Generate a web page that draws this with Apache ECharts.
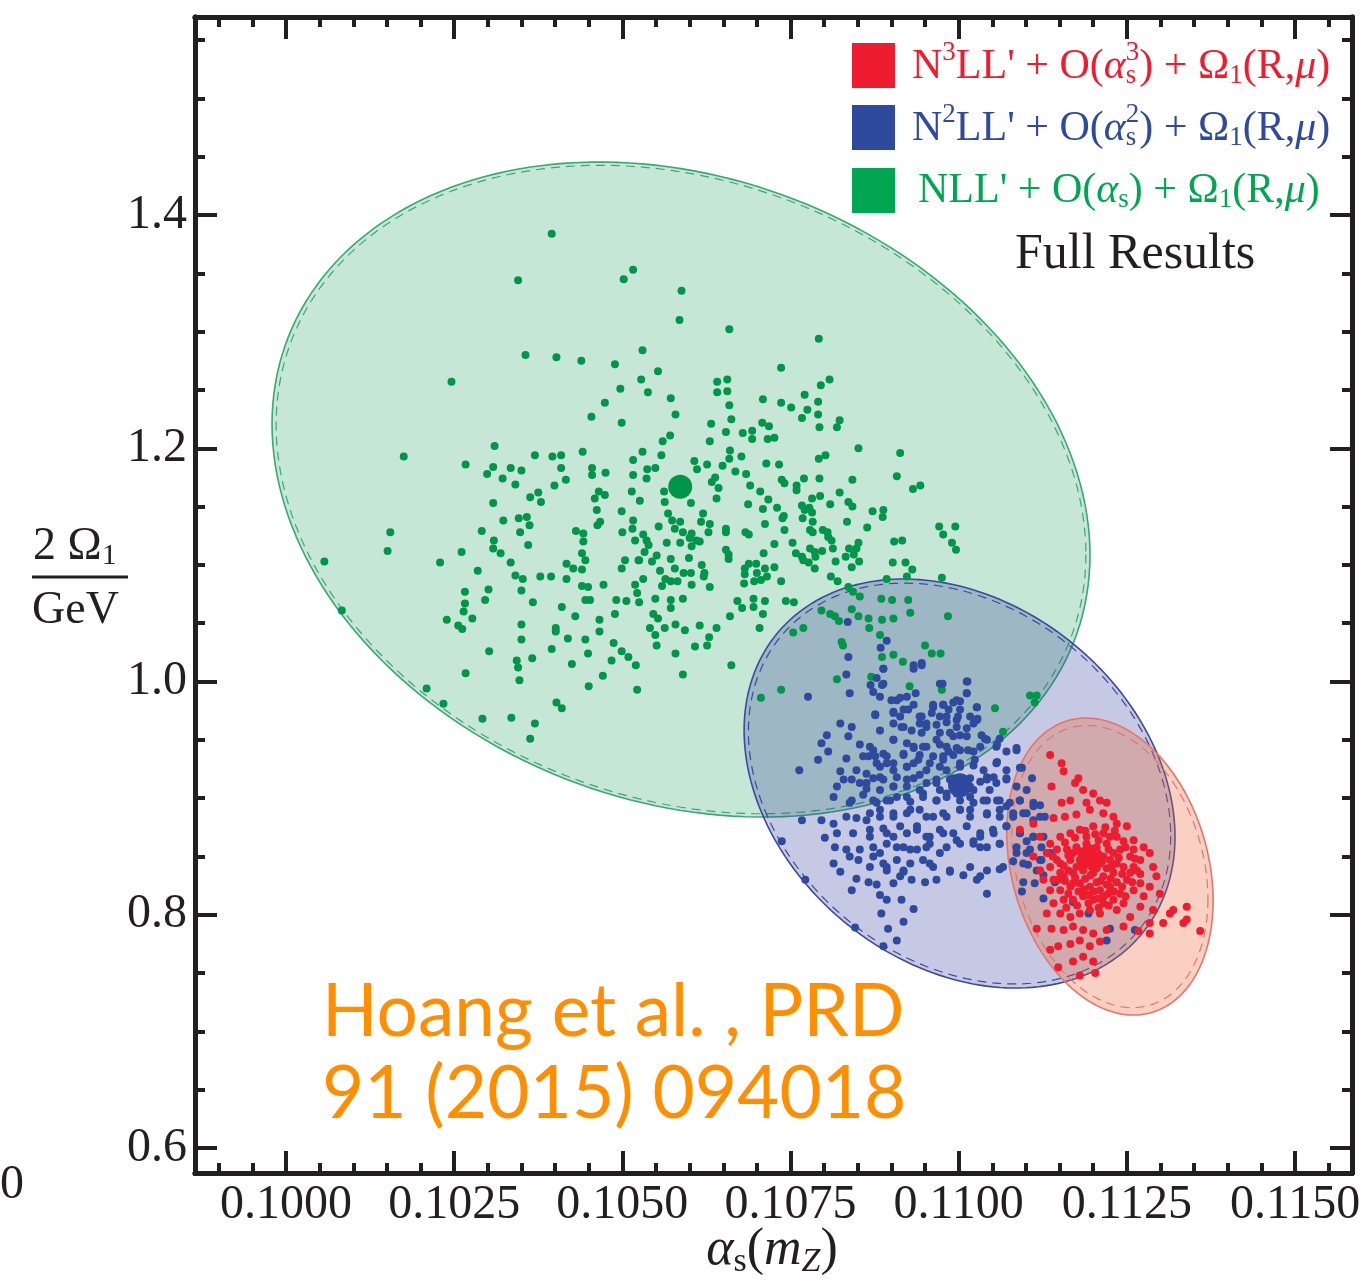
<!DOCTYPE html>
<html>
<head>
<meta charset="utf-8">
<script src="https://cdn.jsdelivr.net/npm/echarts@6.0.0/dist/echarts.min.js"></script>
<style>
html, body { margin: 0; padding: 0; background: #fff; }
#chart { width: 1367px; height: 1284px; }
</style>
</head>
<body>
<div id="chart"></div>
<script>
var myChart = echarts.init(document.getElementById('chart'));

// axis window and ticks
const X_MIN = 0.098647, X_MAX = 0.115847;
const Y_MIN = 0.5786, Y_MAX = 1.5698;
const xMajor = [0.1000, 0.1025, 0.1050, 0.1075, 0.1100, 0.1125, 0.1150];
const yMajor = [0.6, 0.8, 1.0, 1.2, 1.4];

// fit ellipses: [alpha_s centre, 2 Omega_1 centre, half width, half height, correlation, dashed scale]
const greenEllipse = [0.105872, 1.16463, 0.006080, 0.28082, -0.20, 0.99];
const blueEllipse  = [0.110013, 0.91254, 0.003203, 0.17535, -0.26, 0.98];
const redEllipse   = [0.112248, 0.84137, 0.001534, 0.12733, -0.23, 0.95];

// best fit points
const greenCenter = [0.10586, 1.167];
const blueCenter  = [0.11002, 0.911];
const redCenter   = [0.11195, 0.850];

// NLL' scan
const greenPoints = [
[0.10395,1.384],[0.10345,1.344],[0.10516,1.353],[0.10502,1.345],[0.10356,1.280],[0.10402,1.278],[0.10439,1.275],[0.10489,1.272],[0.10246,1.257],[0.10497,1.251],
[0.10474,1.239],[0.10454,1.227],[0.10499,1.222],[0.10310,1.202],[0.10175,1.193],[0.10370,1.194],[0.10396,1.193],[0.10409,1.194],[0.10441,1.197],[0.10267,1.186],
[0.10308,1.184],[0.10299,1.178],[0.10334,1.183],[0.10350,1.181],[0.10322,1.174],[0.10341,1.169],[0.10409,1.183],[0.10416,1.173],[0.10399,1.168],[0.10455,1.183],
[0.10455,1.177],[0.10475,1.179],[0.10516,1.190],[0.10516,1.177],[0.10363,1.158],[0.10375,1.162],[0.10379,1.154],[0.10308,1.153],[0.10459,1.157],[0.10465,1.163],
[0.10474,1.160],[0.10514,1.163],[0.10462,1.147],[0.10499,1.146],[0.10323,1.138],[0.10346,1.140],[0.10358,1.141],[0.10362,1.134],[0.10467,1.137],[0.10463,1.134],
[0.10516,1.138],[0.10291,1.129],[0.10348,1.128],[0.10431,1.129],[0.10442,1.127],[0.10500,1.128],[0.10515,1.131],[0.10155,1.128],[0.10309,1.121],[0.10308,1.114],
[0.10360,1.117],[0.10442,1.120],[0.10519,1.121],[0.10151,1.112],[0.10261,1.111],[0.10319,1.110],[0.10440,1.110],[0.10057,1.103],[0.10229,1.102],[0.10334,1.102],
[0.10417,1.101],[0.10445,1.104],[0.10504,1.104],[0.10499,1.097],[0.10524,1.104],[0.10285,1.095],[0.10427,1.097],[0.10440,1.096],[0.10341,1.091],[0.10352,1.088],
[0.10378,1.090],[0.10394,1.090],[0.10417,1.088],[0.10440,1.082],[0.10449,1.081],[0.10472,1.083],[0.10519,1.083],[0.10522,1.076],[0.10266,1.077],[0.10301,1.079],
[0.10350,1.078],[0.10296,1.070],[0.10266,1.067],[0.10367,1.068],[0.10445,1.070],[0.10452,1.070],[0.10491,1.070],[0.10506,1.069],[0.10410,1.064],[0.10264,1.060],
[0.10277,1.054],[0.10239,1.053],[0.10256,1.048],[0.10262,1.045],[0.10430,1.056],[0.10489,1.058],[0.10466,1.053],[0.10350,1.049],[0.10401,1.046],[0.10401,1.043],
[0.10466,1.043],[0.10083,1.061],[0.10419,1.037],[0.10445,1.036],[0.10350,1.036],[0.10487,1.033],[0.10395,1.028],[0.10302,1.026],[0.10449,1.024],[0.10499,1.026],
[0.10509,1.021],[0.10366,1.020],[0.10343,1.018],[0.10345,1.012],[0.10425,1.015],[0.10484,1.018],[0.10520,1.014],[0.10267,1.007],[0.10347,1.001],[0.10471,1.005],
[0.10450,0.996],[0.10522,0.993],[0.10209,0.994],[0.10234,0.981],[0.10402,0.982],[0.10410,0.977],[0.10292,0.968],[0.10335,0.969],[0.10370,0.964],[0.10363,0.951],
[0.10588,1.335],[0.10585,1.310],[0.10659,1.302],[0.10792,1.294],[0.10530,1.284],[0.10553,1.266],[0.10736,1.269],[0.10808,1.259],[0.10795,1.254],[0.10528,1.259],
[0.10538,1.248],[0.10641,1.257],[0.10656,1.259],[0.10641,1.248],[0.10656,1.249],[0.10572,1.243],[0.10709,1.242],[0.10771,1.246],[0.10791,1.240],[0.10659,1.237],
[0.10736,1.239],[0.10751,1.235],[0.10775,1.233],[0.10579,1.229],[0.10767,1.226],[0.10791,1.229],[0.10793,1.218],[0.10662,1.225],[0.10632,1.221],[0.10708,1.222],
[0.10718,1.219],[0.10823,1.224],[0.10819,1.218],[0.10654,1.214],[0.10679,1.213],[0.10693,1.215],[0.10693,1.208],[0.10716,1.208],[0.10726,1.209],[0.10571,1.211],
[0.10560,1.206],[0.10630,1.206],[0.10851,1.200],[0.10913,1.196],[0.10530,1.197],[0.10558,1.194],[0.10660,1.198],[0.10677,1.193],[0.10659,1.191],[0.10802,1.194],
[0.10792,1.191],[0.10607,1.189],[0.10626,1.186],[0.10649,1.185],[0.10714,1.187],[0.10733,1.186],[0.10537,1.182],[0.10549,1.183],[0.10611,1.182],[0.10668,1.180],
[0.10684,1.178],[0.10536,1.174],[0.10638,1.175],[0.10737,1.173],[0.10770,1.174],[0.10793,1.174],[0.10842,1.173],[0.10908,1.176],[0.10633,1.171],[0.10690,1.168],
[0.10741,1.170],[0.10759,1.168],[0.10643,1.166],[0.10759,1.164],[0.10943,1.168],[0.10932,1.165],[0.10562,1.163],[0.10705,1.163],[0.10823,1.162],[0.10640,1.157],
[0.10782,1.157],[0.10794,1.159],[0.10563,1.154],[0.10526,1.155],[0.10602,1.153],[0.10717,1.156],[0.10687,1.152],[0.10767,1.151],[0.10809,1.152],[0.10836,1.154],
[0.10842,1.150],[0.10730,1.149],[0.10778,1.149],[0.10709,1.148],[0.10771,1.147],[0.10782,1.145],[0.10872,1.146],[0.10888,1.147],[0.10887,1.141],[0.10568,1.144],
[0.10620,1.144],[0.10740,1.142],[0.10768,1.140],[0.10738,1.140],[0.10574,1.138],[0.10586,1.137],[0.10617,1.137],[0.10630,1.135],[0.10712,1.135],[0.10783,1.137],
[0.10834,1.137],[0.10971,1.133],[0.10995,1.133],[0.10554,1.133],[0.10578,1.131],[0.10654,1.131],[0.10779,1.130],[0.10798,1.130],[0.10864,1.132],[0.10590,1.128],
[0.10603,1.127],[0.10628,1.128],[0.10654,1.128],[0.10683,1.128],[0.10741,1.130],[0.10783,1.128],[0.10805,1.128],[0.10531,1.126],[0.10688,1.126],[0.10977,1.126],
[0.10536,1.121],[0.10600,1.123],[0.10610,1.121],[0.10806,1.124],[0.10811,1.121],[0.10566,1.119],[0.10586,1.119],[0.10615,1.120],[0.10753,1.119],[0.10904,1.120],
[0.10916,1.121],[0.10990,1.119],[0.10539,1.117],[0.10726,1.118],[0.10851,1.119],[0.10603,1.116],[0.10779,1.114],[0.10797,1.112],[0.10813,1.114],[0.10837,1.114],
[0.10848,1.114],[0.10996,1.113],[0.10533,1.111],[0.10654,1.113],[0.10786,1.111],[0.10551,1.108],[0.10658,1.109],[0.10710,1.110],[0.10758,1.110],[0.10767,1.107],
[0.10787,1.107],[0.10832,1.107],[0.10844,1.109],[0.10572,1.105],[0.10599,1.106],[0.10658,1.105],[0.10525,1.104],[0.10544,1.103],[0.10769,1.104],[0.10777,1.102],
[0.10817,1.103],[0.10852,1.103],[0.10902,1.102],[0.10921,1.102],[0.10688,1.101],[0.10699,1.101],[0.10618,1.100],[0.10726,1.098],[0.10682,1.097],[0.10712,1.097],
[0.10786,1.097],[0.10841,1.098],[0.10931,1.096],[0.10556,1.095],[0.10578,1.097],[0.10591,1.093],[0.10602,1.093],[0.10622,1.093],[0.10700,1.093],[0.10682,1.092],
[0.10715,1.090],[0.10810,1.090],[0.10621,1.090],[0.10564,1.088],[0.10531,1.088],[0.10893,1.088],[0.10923,1.090],[0.10975,1.089],[0.10572,1.086],[0.10582,1.086],
[0.10696,1.086],[0.10706,1.087],[0.10736,1.086],[0.10820,1.086],[0.10559,1.082],[0.10603,1.083],[0.10681,1.084],[0.10836,1.081],[0.10630,1.081],[0.10843,1.077],
[0.10853,1.073],[0.10549,1.071],[0.10572,1.070],[0.10590,1.071],[0.10671,1.069],[0.10695,1.071],[0.10712,1.069],[0.10743,1.069],[0.10755,1.068],[0.10885,1.071],
[0.10901,1.070],[0.10925,1.070],[0.10525,1.068],[0.10572,1.063],[0.10678,1.063],[0.10695,1.064],[0.10796,1.061],[0.10841,1.062],[0.10928,1.059],[0.10546,1.058],
[0.10553,1.054],[0.10709,1.058],[0.10660,1.056],[0.10809,1.058],[0.10816,1.056],[0.10851,1.056],[0.10866,1.054],[0.10886,1.053],[0.10903,1.054],[0.10984,1.056],
[0.10822,1.052],[0.10541,1.046],[0.10563,1.046],[0.10579,1.049],[0.10593,1.044],[0.10615,1.048],[0.10640,1.046],[0.10704,1.046],[0.10769,1.046],[0.10867,1.046],
[0.10754,1.042],[0.10549,1.040],[0.10629,1.038],[0.10883,1.040],[0.10551,1.031],[0.10608,1.030],[0.10626,1.031],[0.10826,1.034],[0.10828,1.031],[0.10950,1.031],
[0.10579,1.024],[0.10886,1.021],[0.10903,1.023],[0.10960,1.024],[0.10973,1.024],[0.10917,1.017],[0.10662,1.014],[0.10870,1.004],[0.10590,1.006],[0.10819,1.002],
[0.10927,0.996],[0.10975,0.993],[0.10736,0.993],[0.10706,0.986],
[0.11106,0.988],[0.11116,0.988],[0.11113,0.982],[0.11054,0.977],[0.11066,0.957]
];

// N2LL' scan
const bluePoints = [
[0.10835,1.051],[0.10893,1.035],[0.10884,1.029],[0.10836,1.021],[0.10888,1.011],[0.10933,1.011],[0.10945,1.016],[0.10833,1.006],[0.10878,1.003],[0.10869,0.997],
[0.10976,0.998],[0.11013,1.000],[0.10888,0.998],[0.10838,0.990],[0.10883,0.987],[0.10900,0.984],[0.10913,0.986],[0.10923,0.987],[0.10936,0.990],[0.11012,0.990],
[0.10776,0.987],[0.10962,0.980],[0.10977,0.980],[0.10992,0.982],[0.11002,0.983],[0.11027,0.978],[0.10876,0.972],[0.10903,0.974],[0.10918,0.976],[0.10933,0.980],
[0.10945,0.970],[0.10960,0.973],[0.10972,0.970],[0.10985,0.976],[0.10999,0.970],[0.11017,0.970],[0.11028,0.968],[0.10913,0.970],
[0.10824,0.964],[0.10841,0.961],[0.10903,0.964],[0.10918,0.961],[0.10942,0.964],[0.10952,0.961],[0.10967,0.963],[0.10982,0.965],[0.10997,0.961],[0.11012,0.960],
[0.11022,0.964],[0.10945,0.956],[0.10972,0.956],[0.10992,0.953],[0.11012,0.953],[0.11034,0.954],[0.11042,0.950],[0.10804,0.954],[0.10836,0.953],[0.10903,0.950],
[0.10796,0.947],[0.10806,0.940],[0.10853,0.946],[0.10873,0.941],[0.10923,0.947],[0.10933,0.943],[0.10952,0.944],[0.10972,0.946],[0.10985,0.940],[0.11002,0.941],
[0.11022,0.940],[0.11056,0.944],[0.11071,0.940],[0.11086,0.941],[0.10888,0.938],[0.10918,0.937],[0.10942,0.937],[0.10962,0.936],[0.10977,0.936],[0.10992,0.937],
[0.10791,0.933],[0.10833,0.934],[0.10866,0.936],[0.10878,0.930],[0.10893,0.930],[0.10923,0.927],[0.10933,0.930],[0.10952,0.924],[0.10972,0.927],[0.10982,0.924],
[0.11002,0.927],[0.11022,0.928],[0.11037,0.924],[0.11056,0.930],[0.11071,0.924],[0.11091,0.926],[0.10763,0.924],[0.10824,0.923],[0.10848,0.924],[0.10863,0.921],[0.10903,0.924],
[0.10829,0.916],[0.10841,0.916],[0.10853,0.913],[0.10873,0.917],[0.10888,0.916],[0.10908,0.918],[0.10933,0.917],[0.10952,0.913],[0.10967,0.913],[0.10992,0.917],
[0.11017,0.917],[0.11032,0.914],[0.11042,0.918],[0.11056,0.913],[0.11071,0.916],[0.11086,0.910],[0.11101,0.907],[0.10819,0.910],[0.10863,0.908],[0.10883,0.907],
[0.10903,0.910],[0.10923,0.910],[0.10942,0.907],[0.10972,0.907],[0.11022,0.907],[0.11046,0.907],
[0.10814,0.901],[0.10841,0.898],[0.10858,0.903],[0.10873,0.898],[0.10893,0.898],[0.10908,0.901],[0.10928,0.897],[0.10947,0.901],[0.10967,0.898],[0.10982,0.901],
[0.11002,0.898],[0.11022,0.896],[0.11042,0.898],[0.11061,0.898],[0.11076,0.896],[0.11091,0.898],[0.11111,0.896],[0.11121,0.894],[0.10838,0.896],
[0.10767,0.881],[0.10796,0.881],[0.10814,0.878],[0.10833,0.884],[0.10848,0.883],[0.10868,0.887],[0.10883,0.890],[0.10903,0.884],[0.10923,0.887],[0.10942,0.890],
[0.10962,0.884],[0.10982,0.884],[0.11002,0.890],[0.11017,0.884],[0.11042,0.886],[0.11061,0.890],[0.11081,0.884],[0.11096,0.887],[0.11111,0.881],[0.11128,0.884],
[0.10737,0.863],[0.10801,0.866],[0.10819,0.870],[0.10843,0.870],[0.10868,0.873],[0.10888,0.874],[0.10903,0.867],[0.10923,0.870],[0.10938,0.876],[0.10952,0.867],
[0.10972,0.873],[0.10992,0.870],[0.11012,0.876],[0.11032,0.867],[0.11051,0.873],[0.11071,0.876],[0.11091,0.870],[0.11111,0.867],[0.11101,0.863],[0.11126,0.867],
[0.10816,0.858],[0.10833,0.856],[0.10853,0.856],[0.10873,0.858],[0.10893,0.861],[0.10918,0.858],[0.10938,0.856],[0.10957,0.861],[0.10982,0.858],[0.11002,0.861],
[0.11022,0.863],[0.11032,0.858],[0.11061,0.861],[0.11086,0.853],[0.11106,0.856],[0.11123,0.858],[0.11136,0.853],
[0.10814,0.844],[0.10838,0.850],[0.10851,0.847],[0.10873,0.850],[0.10888,0.844],[0.10908,0.847],[0.10928,0.844],[0.10947,0.847],[0.10962,0.841],[0.10987,0.837],
[0.11007,0.834],[0.11027,0.830],[0.11061,0.839],[0.11081,0.846],[0.11103,0.843],[0.11123,0.847],[0.11116,0.838],[0.10824,0.837],[0.10893,0.838],[0.10918,0.837],
[0.10772,0.830],[0.10848,0.831],[0.10866,0.828],[0.10878,0.826],[0.10903,0.827],[0.10930,0.830],[0.10950,0.828],[0.10967,0.830],[0.11096,0.828],[0.11113,0.827],[0.11126,0.834],[0.11143,0.828],
[0.10841,0.821],[0.10883,0.817],[0.10893,0.813],[0.10915,0.813],[0.11042,0.818],[0.11094,0.820],[0.11126,0.814],[0.11170,0.811],
[0.10885,0.801],[0.10933,0.805],[0.10918,0.794],[0.10846,0.789],[0.10895,0.788],[0.10908,0.778],[0.11225,0.788],[0.11220,0.778],[0.11262,0.787],[0.11193,0.801],[0.10888,0.773],
[0.10888,1.011],[0.10933,1.014],[0.10945,1.014],[0.10873,0.991],[0.10886,0.997],[0.10908,0.984],[0.10925,0.976],[0.10903,0.973],[0.10876,0.971],[0.10972,0.998],
[0.11012,1.000],[0.11012,0.990],[0.10997,0.984],[0.10977,0.980],[0.10962,0.978],[0.11002,0.976],[0.11027,0.978],[0.10942,0.970],[0.10952,0.964],[0.10982,0.970],
[0.10997,0.967],[0.11027,0.967],[0.10915,0.961],[0.10930,0.958],[0.10903,0.950],[0.10883,0.958],[0.10967,0.950],[0.10987,0.956],[0.11002,0.954],[0.11039,0.951],
[0.11061,0.951],[0.10868,0.944],[0.10858,0.936],[0.10876,0.936],[0.10893,0.936],[0.10918,0.938],[0.10933,0.944],[0.10947,0.944],[0.10982,0.944],[0.10997,0.943],
[0.11014,0.941],[0.11032,0.944],[0.11057,0.946],[0.11086,0.943],[0.10883,0.927],[0.10903,0.930],[0.10923,0.927],[0.10940,0.933],[0.10957,0.930],[0.10977,0.933],
[0.11002,0.930],[0.11024,0.933],[0.11057,0.931],[0.10863,0.913],[0.10883,0.918],[0.10903,0.910],[0.10923,0.916],[0.10942,0.920],[0.10967,0.916],[0.10987,0.916],
[0.11002,0.913],[0.11017,0.910],[0.11042,0.916],[0.11052,0.918],[0.11071,0.917],[0.11094,0.926],[0.11109,0.917],[0.10878,0.896],[0.10898,0.898],[0.10923,0.901],
[0.10947,0.904],[0.10967,0.898],[0.10982,0.904],[0.10997,0.904],[0.11017,0.901],[0.11037,0.898],[0.11057,0.898],[0.11071,0.893],[0.11091,0.898],[0.11111,0.893],
[0.10863,0.881],[0.10883,0.884],[0.10903,0.887],[0.10928,0.890],[0.10952,0.884],[0.10977,0.887],[0.11002,0.890],[0.11017,0.890],[0.11042,0.887],[0.11061,0.884],
[0.11081,0.887],[0.11101,0.887],[0.11121,0.884],[0.10868,0.867],[0.10893,0.870],[0.10913,0.876],[0.10938,0.873],[0.10957,0.867],[0.10977,0.870],[0.10997,0.864],
[0.11032,0.870],[0.11052,0.870],[0.11071,0.876],[0.11091,0.870],[0.11111,0.867],[0.10883,0.853],[0.10908,0.858],[0.10928,0.856],[0.10952,0.858],[0.10972,0.853],
[0.11022,0.861],[0.11042,0.858],[0.11061,0.861],[0.11086,0.858],[0.11101,0.853],[0.10868,0.841],[0.10893,0.841],[0.10918,0.838],[0.10957,0.844],[0.10987,0.838],
[0.11017,0.841],[0.11042,0.838],[0.11066,0.841],[0.11096,0.844],[0.11121,0.847],[0.10913,0.833],[0.11032,0.833]
];

// N3LL' scan
const redPoints = [
[0.11136,0.937],[0.11153,0.930],[0.11156,0.923],[0.11173,0.913],[0.11178,0.917],[0.11138,0.910],[0.11185,0.907],[0.11200,0.904],[0.11210,0.898],[0.11220,0.896],
[0.11153,0.896],[0.11166,0.898],[0.11190,0.896],[0.11091,0.873],[0.11111,0.878],[0.11141,0.883],[0.11158,0.884],[0.11175,0.886],[0.11195,0.890],[0.11215,0.887],
[0.11230,0.884],[0.11250,0.876],[0.11235,0.878],[0.11121,0.867],[0.11136,0.861],[0.11151,0.867],[0.11166,0.870],[0.11180,0.873],[0.11200,0.876],[0.11215,0.870],
[0.11235,0.867],[0.11260,0.864],[0.11275,0.858],[0.11284,0.853],[0.11111,0.850],[0.11131,0.853],[0.11146,0.856],[0.11161,0.856],[0.11175,0.858],[0.11190,0.861],
[0.11205,0.858],[0.11220,0.861],[0.11240,0.856],[0.11255,0.850],[0.11270,0.847],[0.11121,0.838],[0.11136,0.841],[0.11151,0.844],[0.11166,0.847],[0.11180,0.847],
[0.11210,0.844],[0.11225,0.847],[0.11245,0.841],[0.11265,0.838],[0.11289,0.841],[0.11294,0.833],[0.11126,0.830],[0.11141,0.830],[0.11156,0.833],[0.11170,0.836],
[0.11185,0.838],[0.11200,0.836],[0.11215,0.833],[0.11230,0.836],[0.11250,0.830],[0.11270,0.827],[0.11284,0.824],[0.11299,0.818],[0.11136,0.821],[0.11151,0.821],
[0.11166,0.824],[0.11180,0.827],[0.11195,0.824],[0.11210,0.821],[0.11225,0.824],[0.11240,0.818],[0.11260,0.821],[0.11275,0.816],[0.11141,0.810],[0.11156,0.813],
[0.11170,0.813],[0.11185,0.816],[0.11200,0.813],[0.11215,0.810],[0.11230,0.813],[0.11245,0.810],[0.11270,0.807],[0.11289,0.804],[0.11131,0.801],[0.11151,0.801],
[0.11166,0.798],[0.11180,0.801],[0.11195,0.804],[0.11210,0.801],[0.11235,0.804],[0.11255,0.798],[0.11284,0.793],[0.11304,0.793],[0.11314,0.801],[0.11319,0.804],
[0.11339,0.807],[0.11334,0.793],[0.11339,0.796],[0.11359,0.786],[0.11116,0.788],[0.11138,0.788],[0.11156,0.787],[0.11170,0.790],[0.11185,0.787],[0.11200,0.784],
[0.11220,0.787],[0.11245,0.790],[0.11267,0.786],[0.11284,0.784],[0.11136,0.770],[0.11148,0.773],[0.11166,0.775],[0.11180,0.778],[0.11195,0.773],[0.11210,0.777],
[0.11148,0.755],[0.11170,0.760],[0.11185,0.764],[0.11200,0.760],[0.11180,0.748],[0.11203,0.750],
[0.11170,0.853],[0.11185,0.850],[0.11200,0.853],[0.11215,0.850],[0.11230,0.853],[0.11175,0.841],[0.11190,0.844],[0.11205,0.840],[0.11220,0.840],[0.11235,0.844],
[0.11170,0.827],[0.11188,0.831],[0.11205,0.828],[0.11220,0.826],[0.11235,0.828],[0.11178,0.820],[0.11193,0.817],[0.11208,0.814],[0.11222,0.818],[0.11190,0.867],
[0.11208,0.864],[0.11225,0.867],[0.11245,0.863],[0.11260,0.856],[0.11260,0.841],[0.11255,0.836],[0.11151,0.836],[0.11146,0.847],[0.11163,0.838],[0.11198,0.841],
[0.11158,0.862],[0.11173,0.866],[0.11188,0.872],[0.11203,0.869],[0.11218,0.875],[0.11232,0.872],[0.11248,0.858],[0.11163,0.851],[0.11178,0.855],[0.11193,0.857],
[0.11208,0.852],[0.11223,0.856],[0.11238,0.849],[0.11156,0.842],[0.11183,0.843],[0.11213,0.846],[0.11228,0.842],[0.11243,0.835],[0.11158,0.829],[0.11173,0.832],
[0.11196,0.834],[0.11211,0.829],[0.11226,0.831],[0.11243,0.824],[0.11163,0.818],[0.11186,0.822],[0.11201,0.820],[0.11216,0.816],[0.11231,0.820],[0.11248,0.816],
[0.11176,0.808],[0.11193,0.810],[0.11208,0.806],[0.11223,0.808],[0.11160,0.806],[0.11148,0.830],[0.11140,0.850],[0.11262,0.848],[0.11258,0.828],[0.11270,0.835]
];

const INK = '#231f20';
const SERIF = 'Liberation Serif';
const RED = '#ee1c2e', BLUE = '#2e4a9e', GREEN = '#00964a';

const xMinor = [];
for (let i = 198; i <= 231; i++) { if (i % 5 !== 0) xMinor.push(+(i * 0.0005).toFixed(4)); }
const yMinor = [];
for (let i = 12; i <= 31; i++) { if (i % 4 !== 0) yMinor.push(+(i * 0.05).toFixed(2)); }

function xAxisCfg(pos, values, len, labels) {
    return {
        type: 'value', position: pos, min: X_MIN, max: X_MAX,
        axisLine: {show: true, onZero: false, lineStyle: {color: INK, width: 5}},
        splitLine: {show: false},
        axisTick: {show: true, inside: true, length: len, customValues: values, lineStyle: {color: INK, width: 4}},
        axisLabel: {show: labels, customValues: values, formatter: v => v.toFixed(4),
            fontFamily: SERIF, fontSize: 48, color: INK, margin: 8}
    };
}
function yAxisCfg(pos, values, len, labels) {
    return {
        type: 'value', position: pos, min: Y_MIN, max: Y_MAX,
        axisLine: {show: true, onZero: false, lineStyle: {color: INK, width: 5}},
        splitLine: {show: false},
        axisTick: {show: true, inside: true, length: len, customValues: values, lineStyle: {color: INK, width: 4}},
        axisLabel: {show: labels, customValues: values, formatter: v => v.toFixed(1),
            fontFamily: SERIF, fontSize: 48, color: INK, margin: 8}
    };
}

function ellipseSeries(e, fill, stroke) {
    return {
        type: 'custom',
        silent: true,
        encode: {x: 0, y: 1},
        data: [e],
        renderItem: function (params, api) {
            const cx = api.value(0), cy = api.value(1), sx = api.value(2), sy = api.value(3);
            const rho = api.value(4), k = api.value(5);
            const c = Math.sqrt(1 - rho * rho);
            const outer = [], inner = [];
            for (let i = 0; i < 200; i++) {
                const t = i / 200 * 2 * Math.PI;
                const dx = sx * Math.cos(t), dy = sy * (rho * Math.cos(t) - c * Math.sin(t));
                outer.push(api.coord([cx + dx, cy + dy]));
                inner.push(api.coord([cx + k * dx, cy + k * dy]));
            }
            return {
                type: 'group',
                children: [
                    {type: 'polygon', shape: {points: outer}, style: {fill: fill, stroke: stroke, lineWidth: 1.6}},
                    {type: 'polygon', shape: {points: inner}, style: {fill: 'none', stroke: stroke, lineWidth: 1.2, lineDash: [9, 6]}}
                ]
            };
        }
    };
}

function tok(color, size, extra) {
    return Object.assign({fill: color, fontFamily: SERIF, fontSize: size, verticalAlign: 'middle'}, extra || {});
}
function richSet(color) {
    return {
        n: tok(color, 42),
        a: tok(color, 42, {fontStyle: 'italic'}),
        sup: tok(color, 27, {padding: [0, 0, 28, 0]}),
        sub: tok(color, 27, {padding: [18, 0, 0, 0]}),
        subz: tok(color, 27, {padding: [18, 0, 0, 0], width: 0.1})
    };
}
function legendText(y, color, text) {
    return {type: 'text', x: 912, y: y, z: 100,
        style: {text: text, rich: richSet(color), align: 'left', verticalAlign: 'middle'}};
}

var option = {
    animation: false,
    backgroundColor: '#ffffff',
    grid: {left: 195, top: 17, right: 15, bottom: 111, containLabel: false, outerBoundsMode: 'none'},
    xAxis: [
        xAxisCfg('bottom', xMajor, 22, true),
        xAxisCfg('bottom', xMinor, 10, false),
        xAxisCfg('top', xMajor, 22, false),
        xAxisCfg('top', xMinor, 10, false)
    ],
    yAxis: [
        yAxisCfg('left', yMajor, 22, true),
        yAxisCfg('left', yMinor, 10, false),
        yAxisCfg('right', yMajor, 22, false),
        yAxisCfg('right', yMinor, 10, false)
    ],
    series: [
        ellipseSeries(greenEllipse, 'rgba(0,146,69,0.22)', '#3aa874'),
        ellipseSeries(blueEllipse, 'rgba(43,57,150,0.27)', '#3b4a9c'),
        ellipseSeries(redEllipse, 'rgba(235,100,50,0.30)', '#e8736a'),
        {type: 'scatter', silent: true, data: greenPoints, symbolSize: 8, itemStyle: {color: GREEN, opacity: 1}},
        {type: 'scatter', silent: true, data: bluePoints, symbolSize: 8, itemStyle: {color: BLUE, opacity: 1}},
        {type: 'scatter', silent: true, data: redPoints, symbolSize: 8, itemStyle: {color: RED, opacity: 1}},
        {type: 'scatter', silent: true, data: [greenCenter], symbolSize: 24, itemStyle: {color: GREEN, opacity: 1}},
        {type: 'scatter', silent: true, data: [blueCenter], symbolSize: 24, itemStyle: {color: BLUE, opacity: 1}},
        {type: 'scatter', silent: true, data: [redCenter], symbolSize: 24, itemStyle: {color: RED, opacity: 1}}
    ],
    graphic: [
        // legend
        {type: 'rect', z: 100, shape: {x: 852, y: 43, width: 43, height: 45}, style: {fill: RED}},
        {type: 'rect', z: 100, shape: {x: 852, y: 105, width: 43, height: 45}, style: {fill: BLUE}},
        {type: 'rect', z: 100, shape: {x: 852, y: 168, width: 43, height: 45}, style: {fill: '#00a651'}},
        legendText(67, RED, "{n|N}{sup|3}{n|LL' + O(}{a|α}{subz|s}{sup|3}{n|) + Ω}{sub|1}{n|(R,}{a|μ}{n|)}"),
        legendText(129, BLUE, "{n|N}{sup|2}{n|LL' + O(}{a|α}{subz|s}{sup|2}{n|) + Ω}{sub|1}{n|(R,}{a|μ}{n|)}"),
        {type: 'text', x: 918, y: 191, z: 100,
            style: {text: "{n|NLL' + O(}{a|α}{sub|s}{n|) + Ω}{sub|1}{n|(R,}{a|μ}{n|)}", rich: richSet('#00a651'),
                align: 'left', verticalAlign: 'middle'}},
        {type: 'text', x: 1015, y: 255, z: 100,
            style: {text: 'Full Results', fill: INK, font: '50px "Liberation Serif"', align: 'left', verticalAlign: 'middle'}},
        // axis names
        {type: 'text', x: 772, y: 1250, z: 100,
            style: {text: '{a|α}{sub|s}{n|(}{a|m}{subi|Z}{n|)}', align: 'center', verticalAlign: 'middle',
                rich: {
                    n: tok(INK, 52), a: tok(INK, 52, {fontStyle: 'italic'}),
                    sub: tok(INK, 34, {padding: [24, 0, 0, 0]}),
                    subi: tok(INK, 34, {padding: [24, 0, 0, 0], fontStyle: 'italic'})
                }}},
        {type: 'text', x: 33, y: 547, z: 100,
            style: {text: '{n|2 Ω}{sub|1}', align: 'left', verticalAlign: 'middle',
                rich: {n: tok(INK, 46), sub: tok(INK, 30, {padding: [18, 0, 0, 0]})}}},
        {type: 'line', z: 100, shape: {x1: 32, y1: 577, x2: 128, y2: 577}, style: {stroke: INK, lineWidth: 3}},
        {type: 'text', x: 32, y: 611, z: 100,
            style: {text: 'GeV', fill: INK, font: '46px "Liberation Serif"', align: 'left', verticalAlign: 'middle'}},
        {type: 'text', x: 0, y: 1185, z: 100,
            style: {text: '0', fill: INK, font: '48px "Liberation Serif"', align: 'left', verticalAlign: 'middle'}},
        // reference
        {type: 'text', x: 322, y: 1012, z: 100,
            style: {text: 'Hoang et al. , PRD', fill: '#ff8f00', font: '73px Lato', align: 'left', verticalAlign: 'middle'}},
        {type: 'text', x: 322, y: 1094, z: 100,
            style: {text: '91 (2015) 094018', fill: '#ff8f00', font: '73px Lato', align: 'left', verticalAlign: 'middle'}}
    ]
};

myChart.setOption(option);
</script>
</body>
</html>
